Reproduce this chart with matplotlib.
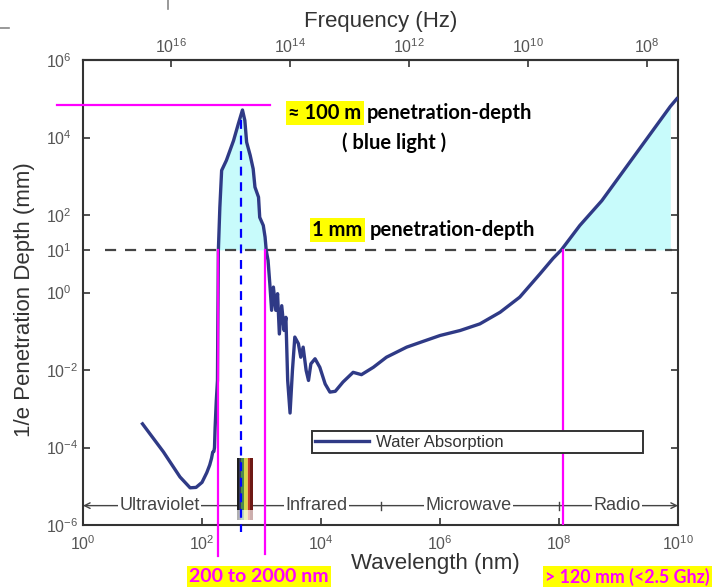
import numpy as np
import matplotlib
matplotlib.use('Agg')
import matplotlib.pyplot as plt
from matplotlib.ticker import FixedLocator, FuncFormatter, NullLocator

plt.rcParams['font.family'] = ['Liberation Sans', 'DejaVu Sans']
plt.rcParams['mathtext.fontset'] = 'custom'
plt.rcParams['mathtext.rm'] = 'Liberation Sans'
plt.rcParams['mathtext.it'] = 'Liberation Sans:italic'
plt.rcParams['mathtext.bf'] = 'Liberation Sans:bold'

# water absorption curve (log10 of nm / log10 of mm)
log_wavelength = [1.00, 1.35, 1.63, 1.80, 1.90, 2.00, 2.08, 2.13, 2.16, 2.18, 2.20, 2.21,
                  2.22, 2.24, 2.26, 2.265, 2.27, 2.275, 2.30, 2.33, 2.41, 2.53, 2.61, 2.68,
                  2.72, 2.75, 2.81, 2.86, 2.89, 2.95, 2.97, 3.03, 3.06, 3.08, 3.11, 3.14,
                  3.17, 3.20, 3.24, 3.27, 3.30, 3.34, 3.38, 3.41, 3.44, 3.48, 3.52, 3.56,
                  3.62, 3.66, 3.70, 3.75, 3.79, 3.83, 3.90, 3.98, 4.07, 4.15, 4.24, 4.37,
                  4.54, 4.68, 4.88, 5.10, 5.44, 5.70, 6.00, 6.34, 6.67, 7.01, 7.34, 7.68,
                  7.90, 8.04, 8.35, 8.72, 9.87, 9.98]
log_depth = [-3.39, -4.11, -4.76, -5.04, -5.03, -4.90, -4.65, -4.45, -4.28, -4.12, -4.10, -4.00,
             -3.50, -2.80, -2.27, -1.00, 0.00, 1.08, 2.20, 3.15, 3.41, 3.92, 4.35, 4.71,
             4.44, 3.88, 3.54, 3.19, 2.72, 2.46, 1.94, 1.73, 1.43, 1.08, 0.83, 0.22,
             -0.46, 0.14, -0.46, -0.03, -1.07, -0.34, -0.98, -0.64, -2.27, -3.11, -2.01, -1.15,
             -1.32, -1.67, -1.41, -2.01, -2.27, -1.84, -1.71, -1.93, -2.36, -2.57, -2.55, -2.31,
             -2.06, -2.12, -1.93, -1.67, -1.41, -1.27, -1.11, -0.98, -0.81, -0.51, -0.12, 0.48,
             0.88, 1.10, 1.73, 2.37, 4.80, 5.00]

threshold_exp = 1.1          # dashed "1 mm" line
peak_exp = 4.84              # "100 m" line
blue_light_nm = 452
optical_window_nm = [188, 1148]
radio_cut_nm = 1.17e8
fill_max_nm = 10 ** 9.87

band_names = ['Ultraviolet', 'Infrared', 'Microwave', 'Radio']
band_label_nm = [19.5, 8300, 3.0e6, 9.5e8]
band_tick_nm = [1e5, 1e8]
band_exp = -5.5

spectrum_edges_nm = [390, 420, 450, 500, 560, 600, 650, 720]
spectrum_colors = ['#1e1e1e', '#34385e', '#4f8a4c', '#d4d84a', '#e6c15a', '#c0392b', '#6e1814']

x_ticks = [1e0, 1e2, 1e4, 1e6, 1e8, 1e10]
y_ticks = [1e-6, 1e-4, 1e-2, 1e0, 1e2, 1e4, 1e6]
freq_ticks = [1e16, 1e14, 1e12, 1e10, 1e8]

wavelength = 10.0 ** np.array(log_wavelength)
depth = 10.0 ** np.array(log_depth)
thr = 10.0 ** threshold_exp

W, H = 716, 587
fig = plt.figure(figsize=(W / 100, H / 100), dpi=100)
ax = fig.add_axes([83 / W, 1 - 525 / H, 595 / W, 465 / H])
ax.set_xscale('log')
ax.set_yscale('log')
ax.set_xlim(1e0, 1e10)
ax.set_ylim(1e-6, 1e6)

navy = '#2f3a86'
grey = '#555555'
magenta = '#ff00ff'

# cyan areas above the 1 mm line
peak = wavelength < 1e4
ax.fill_between(wavelength[peak], depth[peak], thr, where=depth[peak] > thr,
                interpolate=True, color='#c8fbfb', lw=0, zorder=1)
radio = (wavelength > 1e7) & (wavelength <= fill_max_nm * 1.001)
ax.fill_between(wavelength[radio], depth[radio], thr, where=depth[radio] > thr,
                interpolate=True, color='#c8fbfb', lw=0, zorder=1)

ax.plot(wavelength, depth, color=navy, lw=2.4, zorder=4, label='Water Absorption',
        solid_joinstyle='round')

# dashed 1 mm line
ax.plot([10 ** 0.37, 10 ** 9.9], [thr, thr], color='#444444', lw=1.6,
        dashes=(5, 4), zorder=3)

# band arrow + labels
ax.annotate('', xy=(1e0, 10 ** band_exp), xytext=(1e10, 10 ** band_exp),
            arrowprops=dict(arrowstyle='<->', color='#444444', lw=1.0,
                            shrinkA=0, shrinkB=0), zorder=2)
for bx in band_tick_nm:
    ax.plot([bx, bx], [10 ** (band_exp - 0.1), 10 ** (band_exp + 0.1)],
            color='#444444', lw=1.0, zorder=2)
for name, bx in zip(band_names, band_label_nm):
    ax.text(bx, 10 ** band_exp, name, ha='center', va='center', fontsize=13,
            color='#444444', zorder=3,
            bbox=dict(facecolor='white', edgecolor='none', pad=1.0))

# visible spectrum bar
for i, c in enumerate(spectrum_colors):
    xs = [spectrum_edges_nm[i], spectrum_edges_nm[i + 1]]
    ax.fill_between(xs, 10 ** -5.6, 10 ** -4.28, color=c, lw=0, zorder=5)
    ax.fill_between(xs, 10 ** -5.87, 10 ** -5.6, color=c, alpha=0.35, lw=0, zorder=5)

# magenta guides
ax.plot(optical_window_nm[:1] * 2, [thr, 10 ** -6.81], color=magenta, lw=1.6,
        zorder=6, clip_on=False)
ax.plot(optical_window_nm[1:] * 2, [thr, 10 ** -6.74], color=magenta, lw=1.6,
        zorder=6, clip_on=False)
ax.plot([radio_cut_nm, radio_cut_nm], [thr, 1e-6], color=magenta, lw=1.6, zorder=6)
ax.plot([10 ** -0.44, 10 ** 3.14], [10 ** peak_exp] * 2, color=magenta, lw=1.6,
        zorder=6, clip_on=False)

# blue light line
ax.plot([blue_light_nm, blue_light_nm], [10 ** 4.45, 10 ** -6.17], color='#0000ff',
        lw=1.6, dashes=(4, 3), zorder=7, clip_on=False)

leg = ax.legend(loc='center', bbox_to_anchor=(0.385, 0.153, 0.556, 0.05), mode='expand',
                fontsize=12, handlelength=3.2, handletextpad=0.45, borderpad=0.2,
                fancybox=False, framealpha=1, edgecolor='#333333', borderaxespad=0)
leg.get_frame().set_linewidth(1.4)
leg.set_zorder(10)
for t in leg.get_texts():
    t.set_color('#333333')

# axes styling
for s in ax.spines.values():
    s.set_color('#333333')
    s.set_linewidth(1.5)
pow_fmt = FuncFormatter(lambda v, p: r'$10^{%d}$' % round(np.log10(v)))
ax.xaxis.set_major_locator(FixedLocator(x_ticks))
ax.xaxis.set_minor_locator(NullLocator())
ax.xaxis.set_major_formatter(pow_fmt)
ax.yaxis.set_major_locator(FixedLocator(y_ticks + [thr]))
ax.yaxis.set_minor_locator(NullLocator())
ax.yaxis.set_major_formatter(FuncFormatter(
    lambda v, p: r'$10^{1}$' if abs(v - thr) < 1 else r'$10^{%d}$' % round(np.log10(v))))
ax.tick_params(direction='in', length=5, width=1.2, colors='#333333',
               labelcolor=grey, labelsize=11.5, top=False, right=True)
ax.tick_params(axis='x', pad=7)
ax.tick_params(axis='y', pad=27)
for lab in ax.get_yticklabels():
    lab.set_ha('left')


def nm_to_hz(x):
    x = np.asarray(x, dtype=float)
    with np.errstate(divide='ignore'):
        return 3e17 / x


secax = ax.secondary_xaxis('top', functions=(nm_to_hz, nm_to_hz))
secax.xaxis.set_major_locator(FixedLocator(freq_ticks))
secax.xaxis.set_minor_locator(NullLocator())
secax.xaxis.set_major_formatter(pow_fmt)
secax.tick_params(direction='in', length=5, width=1.2, colors='#333333',
                  labelcolor=grey, labelsize=11.5, pad=3)
secax.spines['top'].set_linewidth(1.5)
secax.spines['top'].set_color('#333333')


def px(x, y):
    return x / W, 1 - y / H


fig.text(*px(381, 22), 'Frequency (Hz)', ha='center', va='center', fontsize=16, color='#333333')
fig.text(*px(435, 563), 'Wavelength (nm)', ha='center', va='center', fontsize=16, color='#333333')
fig.text(*px(25, 300), '1/e Penetration Depth (mm)', ha='center', va='center',
         rotation=90, fontsize=16, color='#333333')

bold = dict(fontweight='bold', family=['Lato', 'DejaVu Sans'], va='center')
hl = dict(facecolor='#ffff00', edgecolor='none', boxstyle='square,pad=0.12')
fig.text(*px(288, 113), '\u2248 100 m', ha='left', bbox=hl, color='black', fontsize=14.5, **bold)
fig.text(*px(367, 113), 'penetration-depth', ha='left', color='black', fontsize=14.5, **bold)
fig.text(*px(394, 143), '( blue light )', ha='center', color='black', fontsize=14.5, **bold)
fig.text(*px(312, 230), '1 mm', ha='left', bbox=hl, color='black', fontsize=14.5, **bold)
fig.text(*px(370, 230), 'penetration-depth', ha='left', color='black', fontsize=14.5, **bold)
fig.text(*px(259, 577), '200 to 2000 nm', ha='center', bbox=hl, color=magenta,
         fontsize=14, **bold)
fig.text(*px(545, 577), '> 120 mm (<2.5 Ghz)', ha='left', bbox=hl, color=magenta,
         fontsize=12.8, **bold)

# leftover screenshot edges at top left
fig.add_artist(plt.Line2D([168 / W, 168 / W], [1, 1 - 9 / H], color='#888888', lw=1.2))
fig.add_artist(plt.Line2D([0, 9 / W], [1 - 28 / H, 1 - 28 / H], color='#888888', lw=1.2))

fig.savefig('out.png', dpi=100)
